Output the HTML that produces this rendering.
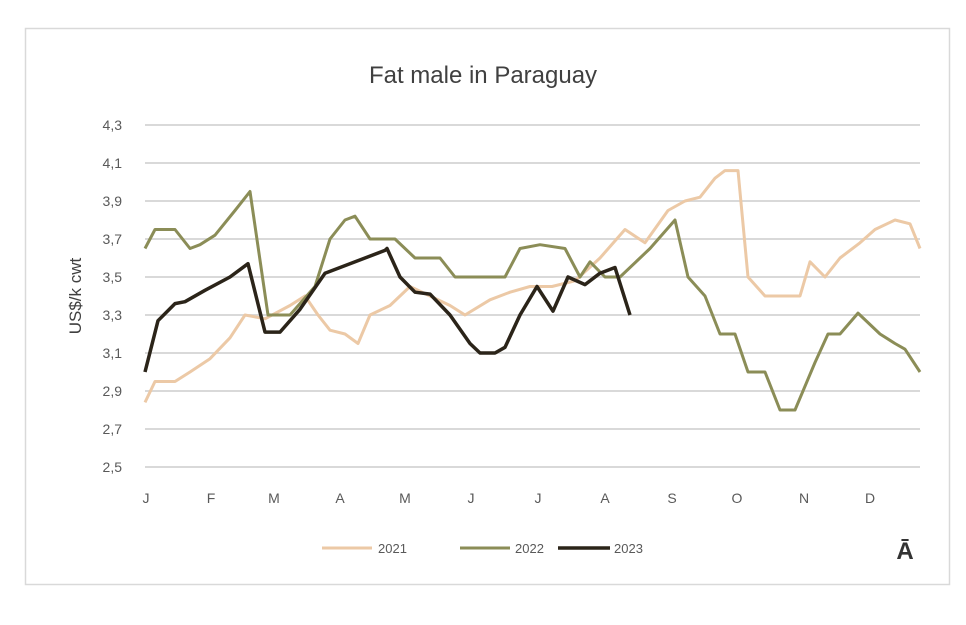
<!DOCTYPE html>
<html><head><meta charset="utf-8"><style>
body{margin:0;background:#fff;}
svg text{font-family:"Liberation Sans",sans-serif;}
</style></head><body>
<svg width="966" height="620" viewBox="0 0 966 620" xmlns="http://www.w3.org/2000/svg">
<rect x="0" y="0" width="966" height="620" fill="#fff"/>
<rect x="25.5" y="28.5" width="924" height="556" fill="#fff" stroke="#d9d9d9" stroke-width="1.5"/>
<text x="483" y="83" font-size="24" text-anchor="middle" fill="#404040">Fat male in Paraguay</text>
<g stroke="#d9d9d9" stroke-width="2">
<line x1="145" x2="920" y1="125" y2="125"/><line x1="145" x2="920" y1="163" y2="163"/>
<line x1="145" x2="920" y1="201" y2="201"/><line x1="145" x2="920" y1="239" y2="239"/>
<line x1="145" x2="920" y1="277" y2="277"/><line x1="145" x2="920" y1="315" y2="315"/>
<line x1="145" x2="920" y1="353" y2="353"/><line x1="145" x2="920" y1="391" y2="391"/>
<line x1="145" x2="920" y1="429" y2="429"/><line x1="145" x2="920" y1="467" y2="467"/>
</g>
<g font-size="14" fill="#595959" text-anchor="end">
<text x="122" y="130">4,3</text><text x="122" y="168">4,1</text><text x="122" y="206">3,9</text>
<text x="122" y="244">3,7</text><text x="122" y="282">3,5</text><text x="122" y="320">3,3</text>
<text x="122" y="358">3,1</text><text x="122" y="396">2,9</text><text x="122" y="434">2,7</text>
<text x="122" y="472">2,5</text>
</g>
<text transform="translate(81,296) rotate(-90)" font-size="17" text-anchor="middle" fill="#404040">US$/k cwt</text>
<g font-size="14" fill="#595959" text-anchor="middle">
<text x="146" y="503">J</text><text x="211" y="503">F</text><text x="274" y="503">M</text>
<text x="340" y="503">A</text><text x="405" y="503">M</text><text x="471" y="503">J</text>
<text x="538" y="503">J</text><text x="605" y="503">A</text><text x="672" y="503">S</text>
<text x="737" y="503">O</text><text x="804" y="503">N</text><text x="870" y="503">D</text>
</g>
<polyline fill="none" stroke="#ecc9a6" stroke-width="3" stroke-linejoin="round" points="145,402.4 155,381.5 175,381.5 190,372 210,358.7 230,337.8 245,315 265,318.8 290,305.5 305,296 318,315 330,330.2 345,334 358,343.5 370,315 390,305.5 410,286.5 430,296 450,305.5 465,315 490,299.8 510,292.2 530,286.5 552,286.5 575,280.8 600,258 625,229.5 645,242.8 668,210.5 685,201 700,197.2 715,178.2 725,170.6 738,170.6 748,277 765,296 800,296 810,261.8 825,277 840,258 860,242.8 875,229.5 895,220 910,223.8 920,248.5"/>
<polyline fill="none" stroke="#8b8d57" stroke-width="3" stroke-linejoin="round" points="145,248.5 155,229.5 175,229.5 190,248.5 200,244.7 215,235.2 235,210.5 250,191.5 268,315 290,315 315,286.5 330,239 345,220 355,216.2 370,239 395,239 415,258 440,258 455,277 505,277 520,248.5 540,244.7 565,248.5 580,277 590,261.8 605,277 620,277 650,248.5 675,220 688,277 705,296 720,334 735,334 748,372 765,372 780,410 795,410 815,362.5 828,334 840,334 858,313.1 880,334 895,343.5 905,349.2 920,372"/>
<polyline fill="none" stroke="#2b2419" stroke-width="3.5" stroke-linejoin="round" points="145,372 158,320.7 175,303.6 185,301.7 205,290.3 230,277 248,263.7 265,332.1 280,332.1 300,309.3 325,273.2 345,265.6 365,258 385,250.4 387,248.5 400,277 415,292.2 430,294.1 450,315 470,343.5 480,353 495,353 505,347.3 520,315 537,286.5 553,311.2 568,277 585,284.6 600,273.2 615,267.5 630,315"/>
<line x1="322" y1="548" x2="372" y2="548" stroke="#ecc9a6" stroke-width="3"/>
<text x="378" y="553" font-size="13" fill="#595959">2021</text>
<line x1="460" y1="548" x2="510" y2="548" stroke="#8b8d57" stroke-width="3"/>
<text x="515" y="553" font-size="13" fill="#595959">2022</text>
<line x1="558" y1="548" x2="610" y2="548" stroke="#2b2419" stroke-width="3.5"/>
<text x="614" y="553" font-size="13" fill="#595959">2023</text>
<text x="905" y="559" font-size="24" font-weight="bold" text-anchor="middle" fill="#333">Ā</text>
</svg>
</body></html>
